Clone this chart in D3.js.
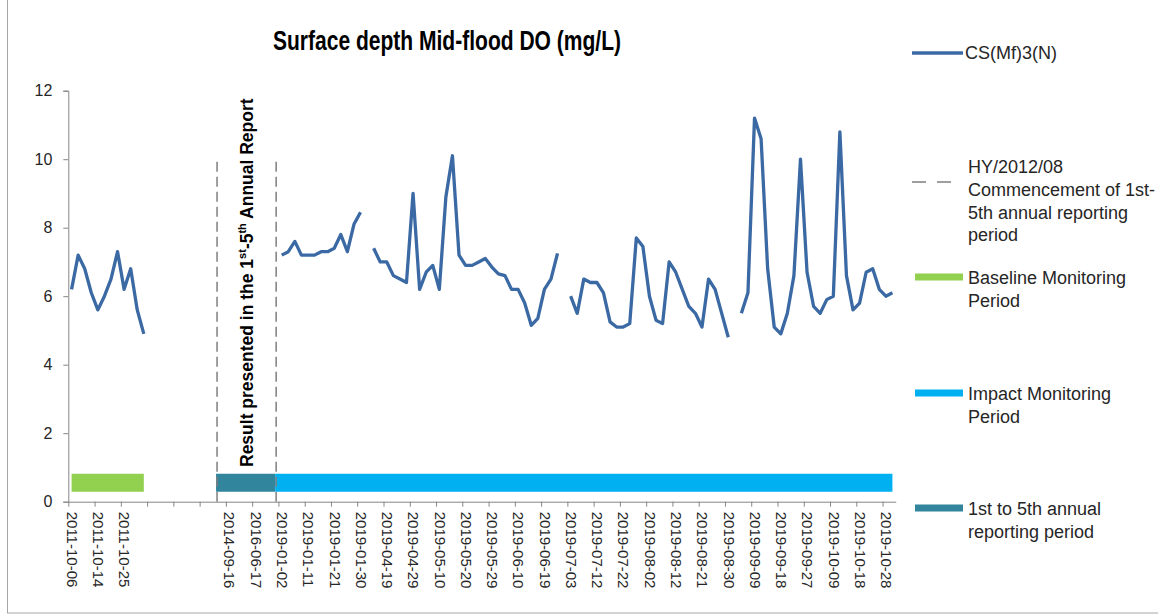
<!DOCTYPE html>
<html>
<head>
<meta charset="utf-8">
<script src="https://cdn.jsdelivr.net/npm/d3@7"></script>
<style>
  body { margin: 0; background: #fff; }
  text { font-family: "Liberation Sans", Arial, sans-serif; fill: #262626; }
</style>
</head>
<body>
<div id="chart"></div>
<script>
// Surface depth Mid-flood DO (mg/L), station CS(Mf)3(N)
const width = 1158, height = 615;
const margin = {top: 90.7, right: 262.3, bottom: 113.3, left: 68.3};

// one value per sampling date (category); null = no sample shown
const doValues = [
  6.2, 7.2, 6.8, 6.1, 5.6, 6.0, 6.5, 7.3, 6.2, 6.8, 5.6, 4.9,
  null, null, null, null, null, null, null, null, null, null,
  null, null, null, null, null, null, null, null, null, null,
  7.2, 7.3, 7.6, 7.2, 7.2, 7.2, 7.3, 7.3, 7.4, 7.8, 7.3, 8.1, 8.45,
  null,
  7.4, 7.0, 7.0, 6.6, 6.5, 6.4, 9.0, 6.2, 6.7, 6.9, 6.2, 8.9, 10.1, 7.2, 6.9,
  6.9, 7.0, 7.1, 6.85, 6.65, 6.6, 6.2, 6.2, 5.8, 5.15, 5.35, 6.2, 6.5, 7.25,
  null,
  6.0, 5.5, 6.5, 6.4, 6.4, 6.1, 5.25, 5.1, 5.1, 5.2, 7.7, 7.45, 6.0, 5.3, 5.2,
  7.0, 6.7, 6.2, 5.7, 5.5, 5.1, 6.5, 6.2, 5.5, 4.8,
  null,
  5.5, 6.1, 11.2, 10.6, 6.8, 5.1, 4.9, 5.5, 6.6, 10.0, 6.7, 5.7, 5.5, 5.9, 6.0,
  10.8, 6.6, 5.6, 5.8, 6.7, 6.8, 6.2, 6.0, 6.1
];

// label shown on every 4th category
const tickLabels = [
  "2011-10-06", "2011-10-14", "2011-10-25", "", "", "", "2014-09-16", "2016-06-17",
  "2019-01-02", "2019-01-11", "2019-01-21", "2019-01-30", "2019-04-19", "2019-04-29",
  "2019-05-10", "2019-05-20", "2019-05-29", "2019-06-10", "2019-06-19", "2019-07-03",
  "2019-07-12", "2019-07-22", "2019-08-02", "2019-08-12", "2019-08-21", "2019-08-30",
  "2019-09-09", "2019-09-18", "2019-09-27", "2019-10-09", "2019-10-18", "2019-10-28"
];
const labelEvery = 4;

// monitoring periods drawn as thick bands near the x axis
const periodNames = ["Baseline Monitoring Period", "1st to 5th annual reporting period", "Impact Monitoring Period"];
const periodStart = [0, 22, 31];
const periodEnd = [11, 31, 125];
const periodColors = ["#92d050", "#31859c", "#00b0f0"];
const periodLevel = 0.55;

// HY/2012/08 reporting markers
const markerCats = [22, 31];
const markerTop = 10;

const lineColor = "#3b69a3";
const axisColor = "#868686";

const svg = d3.select("#chart").append("svg")
  .attr("width", width).attr("height", height);

// chart border
svg.append("rect").attr("x", 7.5).attr("y", -2).attr("width", width).attr("height", 615)
  .attr("fill", "none").attr("stroke", "#a6a6a6");

const nCat = doValues.length;
const x = d3.scaleLinear().domain([0, nCat]).range([margin.left, width - margin.right]);
const cx = i => x(i + 0.5);
const y = d3.scaleLinear().domain([0, 12]).range([height - margin.bottom, margin.top]);

// title
svg.append("text").attr("x", 447).attr("y", 50).attr("text-anchor", "middle")
  .attr("font-size", 27).attr("font-weight", "bold")
  .attr("textLength", 348).attr("lengthAdjust", "spacingAndGlyphs")
  .style("fill", "#000")
  .text("Surface depth Mid-flood DO (mg/L)");

// y axis
const yAxis = svg.append("g").attr("transform", `translate(${margin.left},0)`)
  .call(d3.axisLeft(y).tickValues(d3.range(0, 13, 2)).tickSize(5).tickPadding(11));
yAxis.selectAll("path,line").attr("stroke", axisColor);
yAxis.selectAll("text").attr("font-size", 16).style("font-family", "Liberation Sans, Arial, sans-serif");

// x axis: tick marks on category boundaries
const xTicks = d3.range(0, nCat, labelEvery);
const xAxis = svg.append("g").attr("transform", `translate(0,${y(0)})`)
  .call(d3.axisBottom(x).tickValues(xTicks).tickSize(5).tickSizeOuter(0).tickFormat(""));
xAxis.selectAll("path,line").attr("stroke", axisColor);

// x labels on category centres
const xLab = svg.append("g").attr("transform", `translate(0,${y(0)})`)
  .call(d3.axisBottom(x).tickValues(xTicks.map(d => d + 0.5)).tickSize(0)
    .tickFormat((d, i) => tickLabels[i]));
xLab.select(".domain").remove();
xLab.selectAll("text")
  .attr("transform", "rotate(90)").attr("x", 10).attr("y", 0).attr("dy", "0.35em")
  .attr("text-anchor", "start").attr("font-size", 15)
  .style("font-family", "Liberation Sans, Arial, sans-serif");

// period bands
periodNames.forEach((name, k) => {
  svg.append("line")
    .attr("x1", cx(periodStart[k])).attr("x2", cx(periodEnd[k]))
    .attr("y1", y(periodLevel)).attr("y2", y(periodLevel))
    .attr("stroke", periodColors[k]).attr("stroke-width", 18);
});

// dashed reporting markers
markerCats.forEach(c => {
  svg.append("line").attr("x1", cx(c) + 1).attr("x2", cx(c) + 1)
    .attr("y1", y(0)).attr("y2", y(markerTop))
    .attr("stroke", "#7f7f7f").attr("stroke-width", 1.5).attr("stroke-dasharray", "10,5");
});

// rotated annotation between the markers
const note = svg.append("text")
  .attr("transform", `translate(${(cx(markerCats[0]) + cx(markerCats[1])) / 2 + 7.5},467) rotate(-90)`)
  .attr("font-size", 17.5).attr("font-weight", "bold").style("fill", "#000");
note.append("tspan").text("Result presented in the 1");
note.append("tspan").attr("font-size", 11).attr("dy", -7).text("st");
note.append("tspan").attr("dy", 7).text("-5");
note.append("tspan").attr("font-size", 11).attr("dy", -7).text("th");
note.append("tspan").attr("dy", 7).text(" Annual Report");

// DO line
const line = d3.line().defined(d => d != null).x((d, i) => cx(i)).y(d => y(d));
svg.append("path").datum(doValues).attr("fill", "none").attr("stroke", lineColor)
  .attr("stroke-width", 3.3).attr("stroke-linejoin", "round").attr("d", line);

// legend
const lg = svg.append("g").attr("font-size", 18);
lg.append("line").attr("x1", 912).attr("x2", 963).attr("y1", 53).attr("y2", 53)
  .attr("stroke", lineColor).attr("stroke-width", 3.3);
lg.append("text").attr("x", 965).attr("y", 59).attr("font-size", 18).text("CS(Mf)3(N)");

lg.append("line").attr("x1", 912).attr("x2", 952).attr("y1", 182).attr("y2", 182)
  .attr("stroke", "#7f7f7f").attr("stroke-width", 1.5).attr("stroke-dasharray", "14,11");
const hy = lg.append("text").attr("x", 968).attr("y", 173).attr("font-size", 18);
["HY/2012/08", "Commencement of 1st-", "5th annual reporting", "period"].forEach((t, i) =>
  hy.append("tspan").attr("x", 968).attr("y", 173 + i * 22.8).text(t));

const legendBars = [
  {k: 0, y: 277, lines: ["Baseline Monitoring", "Period"]},
  {k: 2, y: 393, lines: ["Impact Monitoring", "Period"]},
  {k: 1, y: 508, lines: ["1st to 5th annual", "reporting period"]}
];
legendBars.forEach(b => {
  lg.append("line").attr("x1", 915).attr("x2", 963).attr("y1", b.y).attr("y2", b.y)
    .attr("stroke", periodColors[b.k]).attr("stroke-width", 7);
  const t = lg.append("text").attr("font-size", 18);
  b.lines.forEach((s, i) => t.append("tspan").attr("x", 968).attr("y", b.y + 7 + i * 22.5).text(s));
});
</script>
</body>
</html>
